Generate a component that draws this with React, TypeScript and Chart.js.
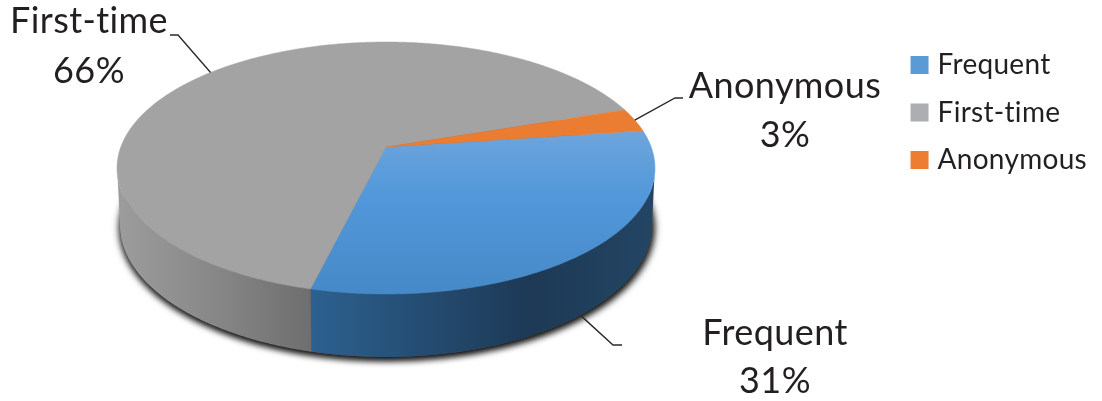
import React, { useEffect, useRef } from "react";
import { Chart, registerables } from "chart.js";

Chart.register(...registerables);

const categories = ["Frequent", "First-time", "Anonymous"];
const shares = [31, 66, 3];
const flatColors = ["#5b9bd5", "#adaeb2", "#ed7d31"];

const FONT = "Lato, 'Open Sans', sans-serif";
const INK = "#231f20";

// Perspective view of the pie disc: top face and bottom face of the cylinder.
const topFace = { cx: 386, cy: 147, a: 265.2, b: 122.5, k: 1 / 6 };
const bottomFace = { cx: 386, cy: 203, a: 262.3, b: 128.3, k: 1 / 6 };
type Face = typeof topFace;

const project = (f: Face, ang: number, r = 1): [number, number] => {
  const u = r * Math.cos(ang);
  const v = r * Math.sin(ang);
  const w = 1 - f.k * v;
  return [f.cx + (f.a * u) / w, f.cy + (f.b * v) / w];
};

const arcPoints = (f: Face, from: number, to: number) => {
  const n = Math.max(2, Math.ceil(Math.abs(to - from) / 0.01));
  const pts: [number, number][] = [];
  for (let i = 0; i <= n; i++) pts.push(project(f, from + ((to - from) * i) / n));
  return pts;
};

const tracePoly = (ctx: CanvasRenderingContext2D, pts: [number, number][]) => {
  ctx.beginPath();
  pts.forEach((p, i) => (i ? ctx.lineTo(p[0], p[1]) : ctx.moveTo(p[0], p[1])));
  ctx.closePath();
};

const RAD = Math.PI / 180;
const WALL_FROM = 9 * RAD;
const WALL_TO = 171 * RAD;

const gradH = (ctx: CanvasRenderingContext2D, x0: number, x1: number, stops: [number, string][]) => {
  const g = ctx.createLinearGradient(x0, 0, x1, 0);
  stops.forEach(([o, c]) => g.addColorStop(o, c));
  return g;
};
const gradV = (ctx: CanvasRenderingContext2D, y0: number, y1: number, stops: [number, string][]) => {
  const g = ctx.createLinearGradient(0, y0, 0, y1);
  stops.forEach(([o, c]) => g.addColorStop(o, c));
  return g;
};

// label text centre, baselines and leader-line elbow / end for each slice
const labelLayout = [
  { x: 775, y1: 345, y2: 393, elbow: [613, 345], end: [622, 345], wall: true, nudge: 0.03 },
  { x: 89, y1: 33, y2: 83, elbow: [178, 35], end: [170, 35], wall: false, nudge: 0 },
  { x: 785, y1: 98, y2: 147, elbow: [675, 98], end: [683, 98], wall: false, nudge: 0 },
];

const perspectivePie = {
  id: "perspectivePie",
  beforeLayout(chart: any) {
    // non-zero tracking switches the "ti" ligature off and matches the source text width
    chart.ctx.letterSpacing = "0.3px";
  },
  beforeDatasetsDraw(chart: any) {
    const ctx: CanvasRenderingContext2D = chart.ctx;
    const arcs = chart.getDatasetMeta(0).data as any[];
    ctx.save();

    // soft shadow under the cylinder
    ctx.save();
    ctx.shadowColor = "rgba(0,0,0,0.8)";
    ctx.shadowBlur = 7;
    ctx.shadowOffsetX = -1;
    ctx.shadowOffsetY = 3;
    ctx.fillStyle = "#555";
    tracePoly(ctx, arcPoints(bottomFace, 0, Math.PI * 2));
    ctx.fill();
    ctx.shadowOffsetX = 3;
    tracePoly(ctx, arcPoints(bottomFace, 0, Math.PI * 2));
    ctx.fill();
    ctx.restore();

    // side walls
    const wallFill = [
      gradH(ctx, 310, 650, [[0, "#2c6190"], [0.35, "#244b70"], [0.65, "#1d3955"], [1, "#234563"]]),
      gradH(ctx, 120, 312, [[0, "#9c9c9c"], [0.5, "#878787"], [1, "#6e6e6e"]]),
      "#a85a24",
    ];
    arcs.forEach((el, i) => {
      const from = Math.max(el.startAngle, WALL_FROM);
      const to = Math.min(el.endAngle, WALL_TO);
      if (to <= from) return;
      const pts = [...arcPoints(topFace, from, to), ...arcPoints(bottomFace, to, from)];
      tracePoly(ctx, pts);
      ctx.fillStyle = wallFill[i];
      ctx.fill();
    });

    // top faces
    const topFill = [
      gradV(ctx, 130, 294, [[0, "#6fa5dc"], [0.4, "#5298da"], [1, "#4689c8"]]),
      "#a3a3a3",
      "#eb7d32",
    ];
    arcs.forEach((el, i) => {
      const pts = [[topFace.cx, topFace.cy] as [number, number], ...arcPoints(topFace, el.startAngle, el.endAngle)];
      tracePoly(ctx, pts);
      ctx.fillStyle = topFill[i];
      ctx.fill();
      ctx.strokeStyle = topFill[i];
      ctx.lineWidth = 0.5;
      ctx.stroke();
    });

    // leader lines
    arcs.forEach((el, i) => {
      const l = labelLayout[i];
      const mid = (el.startAngle + el.endAngle) / 2 + l.nudge;
      const s = project(l.wall ? bottomFace : topFace, mid);
      ctx.beginPath();
      ctx.moveTo(s[0], s[1]);
      ctx.lineTo(l.elbow[0], l.elbow[1]);
      ctx.lineTo(l.end[0], l.end[1]);
      ctx.strokeStyle = "#2b2b2b";
      ctx.lineWidth = 1.4;
      ctx.stroke();
    });

    // data labels
    ctx.fillStyle = INK;
    ctx.font = `36px ${FONT}`;
    (ctx as any).letterSpacing = "0.4px";
    ctx.textAlign = "center";
    ctx.textBaseline = "alphabetic";
    arcs.forEach((_, i) => {
      const l = labelLayout[i];
      ctx.fillText(categories[i], l.x, l.y1);
      ctx.fillText(`${shares[i]}%`, l.x, l.y2);
    });

    ctx.restore();
    return false;
  },
};

export default function App() {
  const ref = useRef<HTMLCanvasElement>(null);
  useEffect(() => {
    document.body.style.margin = "0";
    document.body.style.background = "#fff";
    const canvas = ref.current!;
    const chart = new Chart(canvas, {
      type: "pie",
      data: {
        labels: categories,
        datasets: [{ data: shares, backgroundColor: flatColors, borderWidth: 0 }],
      },
      options: {
        responsive: false,
        animation: false,
        rotation: 82.2,
        devicePixelRatio: 1,
        layout: { padding: { top: 31.5, right: 5, bottom: 0, left: 0 } },
        plugins: {
          tooltip: { enabled: false },
          legend: {
            display: true,
            position: "right",
            align: "start",
            labels: {
              boxWidth: 8,
              boxHeight: 8,
              padding: 19.5,
              color: INK,
              font: { family: FONT, size: 28 },
              generateLabels: () =>
                categories.map((text, i) => ({
                  text,
                  index: i,
                  fillStyle: flatColors[i],
                  strokeStyle: flatColors[i],
                  lineWidth: 10,
                  fontColor: INK,
                })),
            },
          },
        },
      },
      plugins: [perspectivePie],
    } as any);
    return () => chart.destroy();
  }, []);
  return <canvas ref={ref} width={1102} height={401} style={{ display: "block", width: 1102, height: 401 }} />;
}
